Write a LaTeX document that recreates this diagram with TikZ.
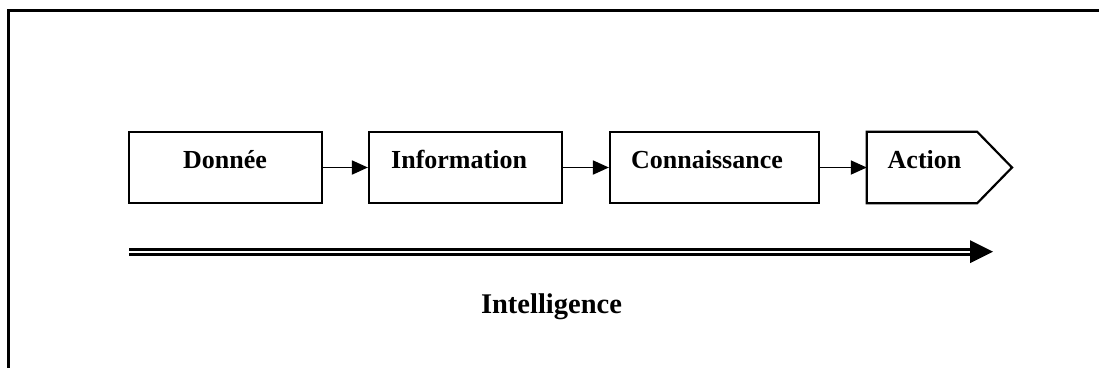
\documentclass[tikz,border=0pt]{standalone}
\usepackage{fontspec}
\setmainfont{Liberation Serif}
\usetikzlibrary{arrows.meta}
\begin{document}
\begin{tikzpicture}[x=1pt,y=-1pt,
  stepbox/.style={draw, line width=2.2pt, inner sep=0pt, minimum height=71pt},
  boxtext/.style={inner sep=0pt, font=\fontsize{26}{30}\selectfont\bfseries},
  link/.style={line width=1.8pt, -{Triangle[length=16pt,width=14pt]}},
  frame/.style={line width=2.4pt}]
  \useasboundingbox (0,0) rectangle (1099,367);

  % partial outer frame (top and left edges)
  \draw[frame] (1102,10.3) -- (8.3,10.3) -- (8.3,370);

  % process boxes
  \node[stepbox, minimum width=193pt] (don) at (225.5,167.5) {};
  \node[stepbox, minimum width=193pt] (inf) at (465.5,167.5) {};
  \node[stepbox, minimum width=209pt] (con) at (714.5,167.5) {};
  \node[inner sep=0pt, minimum width=110pt, minimum height=71pt] (act) at (922,167.5) {};
  \coordinate (acttip) at (1012,167.5);
  \draw[line width=2.2pt, line join=miter]
    (act.north west) -- (act.north east) -- (acttip) -- (act.south east)
    -- (act.south west) -- cycle;

  % box labels
  \node[boxtext, anchor=base] (tdon) at (225,168) {Donnée};
  \node[boxtext, anchor=base west] (tinf) at (391,168) {Information};
  \node[boxtext, anchor=base west] (tcon) at (631,168) {Connaissance};
  \node[boxtext, anchor=base west] (tact) at (887.5,168) {Action};

  % connectors
  \draw[link] (don.east) -- (inf.west);
  \draw[link] (inf.east) -- (con.west);
  \draw[link] (con.east) -- (act.west);

  % double arrow
  \coordinate (ds) at (129,251.7);
  \coordinate (db) at (970,251.7);
  \coordinate (de) at (993,251.7);
  \draw[line width=3.2pt, double distance=2pt] (ds) -- (db);
  \fill ([yshift=-11.5pt]db) -- (de) -- ([yshift=11.5pt]db) -- cycle;

  \node[inner sep=0pt, anchor=base, font=\fontsize{28.5}{32}\selectfont\bfseries]
    (intel) at (551.5,313) {Intelligence};
\end{tikzpicture}
\end{document}
